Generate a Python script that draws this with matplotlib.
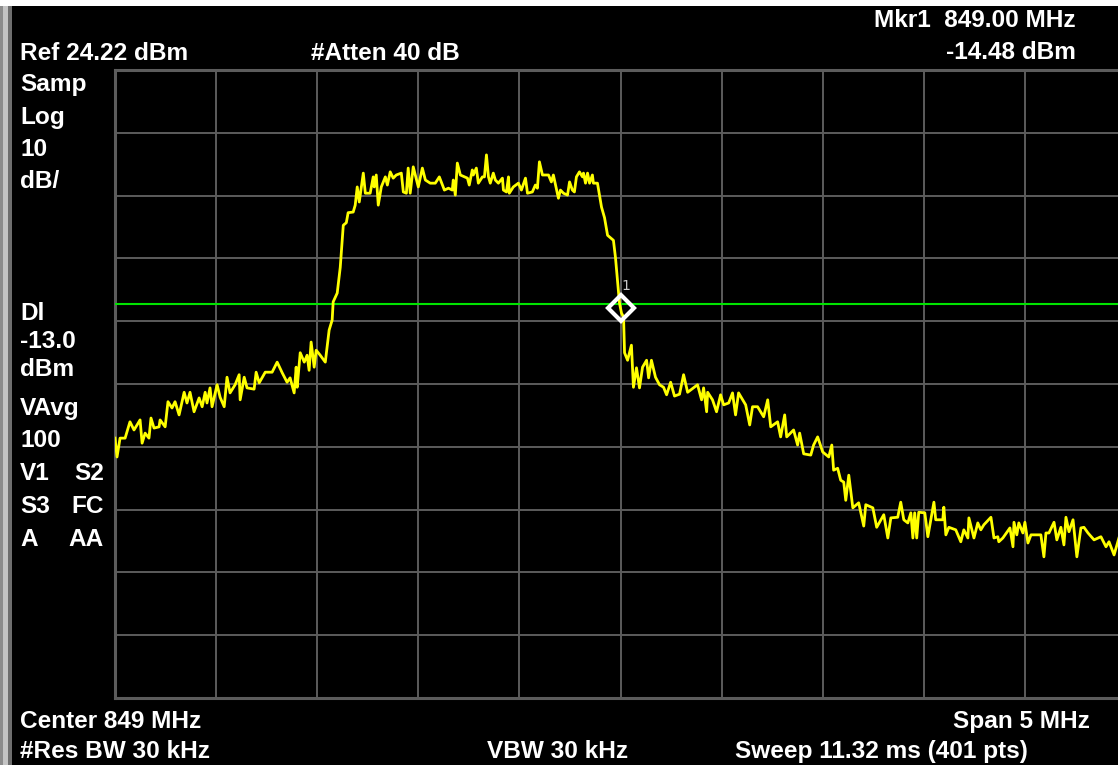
#!/usr/bin/env python3
"""
Recreate a spectrum analyzer screen capture (upper band edge at 849 MHz).

Output:
    out.png  (1118 x 765 px)
"""

import numpy as np
import matplotlib
matplotlib.use("Agg")
import matplotlib.pyplot as plt
from matplotlib.patches import Rectangle

# Instrument settings shown on screen
CENTER_MHZ = 849.0
SPAN_MHZ = 5.0
REF_DBM = 24.22
DB_PER_DIV = 10
DISPLAY_LINE_DBM = -13.0
MARKER_MHZ = 849.00
MARKER_DBM = -14.48

# Trace
freq_mhz = [
    846.500, 846.510, 846.525, 846.550, 846.574, 846.594, 846.624, 846.634, 846.649, 846.668,
    846.678, 846.693, 846.718, 846.723, 846.748, 846.762, 846.782, 846.797, 846.817, 846.842,
    846.856, 846.871, 846.891, 846.916, 846.931, 846.946, 846.955, 846.970, 846.980, 847.005,
    847.020, 847.040, 847.054, 847.069, 847.094, 847.114, 847.119, 847.139, 847.153, 847.188,
    847.198, 847.213, 847.243, 847.277, 847.302, 847.327, 847.351, 847.366, 847.386, 847.396,
    847.401, 847.416, 847.436, 847.450, 847.460, 847.470, 847.485, 847.495, 847.515, 847.540,
    847.559,
    847.574, 847.579, 847.599, 847.614, 847.629, 847.644, 847.653, 847.678, 847.688, 847.698,
    847.708, 847.728, 847.738, 847.762, 847.777, 847.782, 847.792, 847.802, 847.817, 847.837,
    847.847, 847.861, 847.876, 847.891, 847.916, 847.926, 847.941, 847.950, 847.960, 847.975,
    848.000, 848.020, 848.035, 848.059, 848.084, 848.104, 848.129, 848.149, 848.168, 848.173,
    848.183, 848.193, 848.208, 848.243, 848.252, 848.267, 848.272, 848.287, 848.297, 848.317,
    848.327, 848.337, 848.347, 848.356, 848.371, 848.381, 848.396, 848.416, 848.421, 848.436,
    848.446, 848.450, 848.470, 848.495, 848.510, 848.530, 848.540, 848.564, 848.579, 848.589,
    848.599, 848.614, 848.644, 848.658, 848.668, 848.693, 848.703, 848.718, 848.738, 848.748,
    848.762, 848.772, 848.782, 848.797, 848.812, 848.817, 848.827, 848.837, 848.847, 848.861,
    848.866, 848.886, 848.906, 848.921, 848.936, 848.965, 848.975, 848.985, 848.995,
    849.005, 849.015, 849.020, 849.035, 849.054, 849.064, 849.079, 849.094, 849.109, 849.129,
    849.139, 849.153, 849.173, 849.193, 849.213, 849.228, 849.248, 849.267, 849.292, 849.312,
    849.332, 849.381, 849.401, 849.411, 849.426, 849.431, 849.455, 849.475, 849.495, 849.510,
    849.535, 849.554, 849.569, 849.584, 849.619, 849.639, 849.653, 849.678, 849.708, 849.728,
    849.743, 849.777, 849.792, 849.812, 849.822, 849.856, 849.876, 849.886, 849.906, 849.941,
    849.955, 849.975, 850.000, 850.030, 850.045, 850.054, 850.074, 850.089, 850.104, 850.114,
    850.129, 850.149, 850.178, 850.203, 850.213, 850.248, 850.267, 850.302, 850.322, 850.337,
    850.371, 850.386, 850.401, 850.421, 850.436, 850.446, 850.455, 850.465, 850.475, 850.505,
    850.520, 850.550, 850.559, 850.594, 850.599, 850.609, 850.624, 850.658, 850.683, 850.698,
    850.718, 850.723, 850.748, 850.767, 850.782, 850.797, 850.832, 850.847, 850.866, 850.871,
    850.891, 850.926, 850.941, 850.946, 850.960, 850.970, 850.990, 851.000, 851.015, 851.030,
    851.064, 851.079, 851.094, 851.104, 851.119, 851.144, 851.158, 851.178, 851.193, 851.203,
    851.218, 851.238, 851.257, 851.277, 851.292, 851.312, 851.342, 851.376, 851.401, 851.416,
    851.441, 851.465,
]
level_dbm = [
    -34.4, -37.4, -34.4, -34.4, -31.8, -33.1, -31.5, -35.2, -33.6, -34.4,
    -31.2, -32.8, -32.6, -31.5, -32.6, -28.6, -29.6, -28.6, -30.7, -27.1,
    -28.8, -27.1, -30.2, -28.0, -29.4, -27.1, -28.8, -26.4, -29.4, -25.9,
    -27.9, -29.4, -24.7, -27.2, -25.9, -24.3, -28.3, -24.7, -26.4, -26.6,
    -23.9, -25.6, -23.9, -23.9, -22.3, -24.0, -25.5, -24.8, -27.2, -23.1,
    -26.3, -20.8, -22.3, -21.2, -23.6, -19.1, -23.1, -20.4, -21.2, -22.3,
    -17.2,
    -15.6, -12.7, -11.3, -7.2, -0.5, -0.1, 1.5, 1.6, 2.7, 5.6,
    3.2, 7.8, 4.6, 4.6, 7.2, 5.6, 7.5, 2.7, 5.6, 7.2,
    5.9, 8.0, 7.0, 7.5, 7.8, 4.8, 4.6, 8.6, 4.6, 8.8,
    5.6, 8.6, 6.7, 6.2, 6.2, 7.2, 5.1, 5.4, 5.1, 6.7,
    4.3, 9.4, 7.5, 7.0, 5.9, 8.3, 7.5, 8.6, 6.2, 7.2,
    7.2, 10.7, 7.2, 6.2, 7.8, 6.7, 6.2, 7.0, 5.1, 4.8,
    7.2, 4.6, 5.6, 6.2, 5.1, 7.0, 4.6, 4.8, 5.9, 5.4,
    9.6, 7.5, 7.5, 6.4, 7.5, 3.8, 5.1, 4.6, 4.3, 6.4,
    5.1, 4.8, 7.2, 8.0, 7.2, 7.8, 6.2, 7.8, 6.2, 7.5,
    6.2, 6.2, 2.4, 0.7, -2.1, -2.9, -5.6, -9.2, -12.9,
    -14.5, -15.1, -20.8, -22.0, -19.6, -26.3, -23.2, -26.4, -23.1, -22.0,
    -24.8, -22.0, -24.7, -25.9, -26.3, -27.5, -25.5, -27.7, -27.4, -24.3,
    -27.1, -25.9, -28.3, -26.4, -30.2, -27.1, -28.3, -30.2, -27.5, -29.1,
    -28.8, -27.2, -30.7, -27.2, -29.1, -32.3, -29.4, -29.4, -31.0, -28.3,
    -32.6, -31.8, -34.2, -30.7, -34.2, -33.1, -35.5, -33.6, -36.9, -37.1,
    -35.5, -34.2, -36.6, -37.4, -35.5, -39.5, -39.2, -41.1, -41.4, -44.3,
    -40.3, -45.5, -44.7, -48.4, -45.0, -45.5, -48.6, -46.6, -50.3, -47.1,
    -47.0, -44.6, -47.4, -47.9, -46.3, -50.3, -46.3, -50.3, -46.2, -46.3,
    -50.1, -44.6, -47.4, -47.4, -45.4, -49.8, -48.6, -49.0, -50.9, -49.0,
    -50.3, -47.1, -50.3, -47.9, -49.0, -48.2, -47.0, -50.3, -50.1, -50.9,
    -50.3, -48.7, -51.7, -47.8, -49.8, -47.9, -49.5, -47.8, -51.1, -49.8,
    -49.8, -49.8, -53.3, -49.5, -49.5, -47.8, -50.6, -48.6, -51.4, -47.0,
    -49.3, -47.4, -53.3, -48.7, -48.6, -49.5, -50.6, -50.1, -51.7, -50.9,
    -53.0, -50.3,
]

# Annotation column on the left of the graticule
left_labels = ["Samp", "Log", "10", "dB/", "Dl", "-13.0", "dBm", "VAvg", "100"]
flag_pairs = [("V1", "S2"), ("S3", "FC"), ("A", "AA")]

W, H = 1118, 765  # output size in pixels


def fx(x):
    """Pixel x -> figure fraction."""
    return x / W


def fy(y):
    """Pixel y (from top) -> figure fraction."""
    return 1 - y / H


def draw_screen():
    bg = 'black'
    fg = 'white'
    grid_color = '#5c5c5c'
    trace_color = '#ffff00'
    dl_color = '#00e400'
    font = dict(family='Liberation Sans', weight='bold', size=17.6, color=fg)

    fig = plt.figure(figsize=(W / 100, H / 100), dpi=100, facecolor='white')

    # Instrument bezel: black screen with a gray strip on the left (behind the axes)
    bezel = [((12, 1118), bg), ((0, 3), '#8c8c8c'), ((3, 8), '#c4c4c4'), ((8, 12), '#6e6e6e')]
    for (x0, x1), col in bezel:
        fig.patches.append(Rectangle((fx(x0), 0), fx(x1) - fx(x0), fy(6),
                                     transform=fig.transFigure, facecolor=col,
                                     edgecolor='none', zorder=-5))

    # Graticule: 10 x 10 divisions, right edge runs past the capture
    ax = fig.add_axes([fx(115), fy(698), fx(1126) - fx(115), fy(70) - fy(698)])
    ax.set_zorder(2)
    ax.set_facecolor(bg)
    f_lo = CENTER_MHZ - SPAN_MHZ / 2
    f_hi = CENTER_MHZ + SPAN_MHZ / 2
    y_hi = REF_DBM
    y_lo = REF_DBM - 10 * DB_PER_DIV
    ax.set_xlim(f_lo, f_hi)
    ax.set_ylim(y_lo, y_hi)
    ax.set_xticks(np.linspace(f_lo, f_hi, 11))
    ax.set_yticks(np.linspace(y_lo, y_hi, 11))
    ax.tick_params(length=0, labelbottom=False, labelleft=False)
    ax.grid(True, color=grid_color, linewidth=1.4)
    ax.set_axisbelow(True)
    for sp in ax.spines.values():
        sp.set_color(grid_color)
        sp.set_linewidth(2.2)

    # Display line and trace
    ax.axhline(DISPLAY_LINE_DBM, color=dl_color, linewidth=1.5, zorder=3)
    ax.plot(freq_mhz, level_dbm, color=trace_color, linewidth=2.0, zorder=4)

    # Marker 1 sits on the trace
    mk_level = np.interp(MARKER_MHZ, freq_mhz, level_dbm)
    ax.plot(MARKER_MHZ, mk_level, marker='D', markersize=13, markerfacecolor='none',
            markeredgecolor='white', markeredgewidth=3.0, zorder=5, clip_on=False)
    ax.annotate('1', xy=(MARKER_MHZ, mk_level), xytext=(1, 16), textcoords='offset points',
                fontsize=10, color='#c8c8c8', ha='left', va='center', family='DejaVu Sans')

    # Header
    fig.text(fx(20), fy(60), f"Ref {REF_DBM:.2f} dBm", ha='left', va='baseline', **font)
    fig.text(fx(311), fy(60), "#Atten 40 dB", ha='left', va='baseline', **font)
    fig.text(fx(1076), fy(27), f"Mkr1  {MARKER_MHZ:.2f} MHz", ha='right', va='baseline', **font)
    fig.text(fx(1076), fy(59), f"{MARKER_DBM:.2f} dBm", ha='right', va='baseline', **font)

    # Left column
    baselines = [91, 124, 156, 188, 320, 348, 376, 415, 447]
    for txt, yb in zip(left_labels, baselines):
        fig.text(fx(20), fy(yb), txt, ha='left', va='baseline', **font)
    for (a, b), yb in zip(flag_pairs, [480, 513, 546]):
        fig.text(fx(20), fy(yb), a, ha='left', va='baseline', **font)
        fig.text(fx(104), fy(yb), b, ha='right', va='baseline', **font)

    # Footer
    fig.text(fx(20), fy(728), f"Center {CENTER_MHZ:g} MHz", ha='left', va='baseline', **font)
    fig.text(fx(1090), fy(728), f"Span {SPAN_MHZ:g} MHz", ha='right', va='baseline', **font)
    fig.text(fx(20), fy(758), "#Res BW 30 kHz", ha='left', va='baseline', **font)
    fig.text(fx(487), fy(758), "VBW 30 kHz", ha='left', va='baseline', **font)
    fig.text(fx(735), fy(758), "Sweep 11.32 ms (401 pts)", ha='left', va='baseline', **font)

    return fig


def main():
    assert len(freq_mhz) == len(level_dbm)
    fig = draw_screen()
    fig.savefig('out.png', dpi=100, facecolor='white')
    plt.close(fig)


if __name__ == '__main__':
    main()
